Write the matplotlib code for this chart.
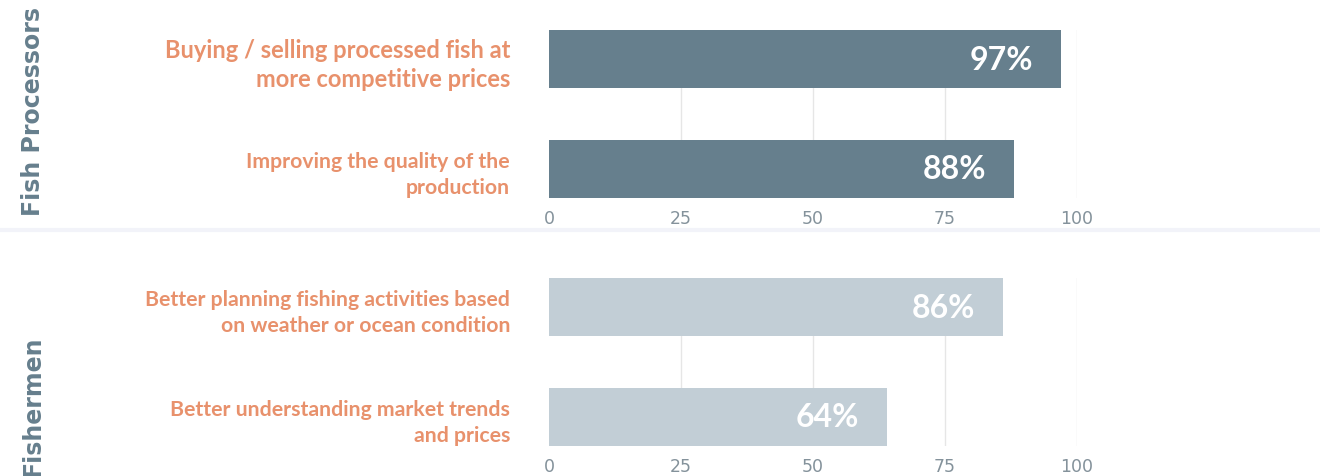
import matplotlib.pyplot as plt
from matplotlib.lines import Line2D

# data
proc_labels = ["Buying / selling processed fish at\nmore competitive prices",
               "Improving the quality of the\nproduction"]
proc_values = [97, 88]
fish_labels = ["Better planning fishing activities based\non weather or ocean condition",
               "Better understanding market trends\nand prices"]
fish_values = [86, 64]
groups = ["Fish Processors", "Fishermen"]
ticks = [0, 25, 50, 75, 100]

label_col = "#e8916c"
group_col = "#667f8d"
tick_col = "#84929b"

fig = plt.figure(figsize=(13.2, 4.77), dpi=100)

def draw_panel(rect, labels, values, color, group, gy, sizes):
    ax = fig.add_axes(rect)
    pos = list(range(len(values)))
    ax.barh(pos, values, height=0.53, color=color, zorder=2)
    ax.set_ylim(len(values) - 1 + 0.265, -0.265)
    ax.set_xlim(0, 100)
    ax.set_xticks(ticks)
    ax.set_xticklabels([str(t) for t in ticks])
    ax.tick_params(axis="x", length=0, pad=8, labelsize=12.5, labelcolor=tick_col)
    ax.set_yticks(pos)
    ax.set_yticklabels(labels, fontfamily="Lato", fontweight="bold",
                       color=label_col)
    ax.tick_params(axis="y", length=0, pad=28)
    for t, fs in zip(ax.get_yticklabels(), sizes):
        t.set_horizontalalignment("right")
        t.set_fontsize(fs)
        t.set_linespacing(1.3 if fs > 16 else 1.4)
    for x in ticks[1:]:
        ax.axvline(x, color="#e6e6e6", lw=1, zorder=1)
    for s in ax.spines.values():
        s.set_visible(False)
    for p, v in zip(pos, values):
        ax.annotate(f"{v}%", (v, p), xytext=(-20, 0), textcoords="offset points",
                    ha="right", va="center", color="white", fontsize=23,
                    fontfamily="Lato", fontweight="bold", zorder=3)
    fig.text(0.025, gy, group, rotation=90, ha="center", va="center",
             fontsize=17, fontweight="bold", color=group_col)
    return ax

draw_panel([549/1320, 278/477, 0.4, 168/477], proc_labels, proc_values,
           "#667f8d", groups[0], 1 - 112/477, [17, 15.3])
draw_panel([549/1320, 30/477, 0.4, 168/477], fish_labels, fish_values,
           "#c2ced6", groups[1], 1 - 406/477, [15.3, 15.3])

# separator band between the two panels
fig.add_artist(Line2D([0, 1], [1 - 231/477, 1 - 231/477], color="#f2f3f9",
                      lw=3, transform=fig.transFigure))

fig.savefig("out.png", dpi=100)
